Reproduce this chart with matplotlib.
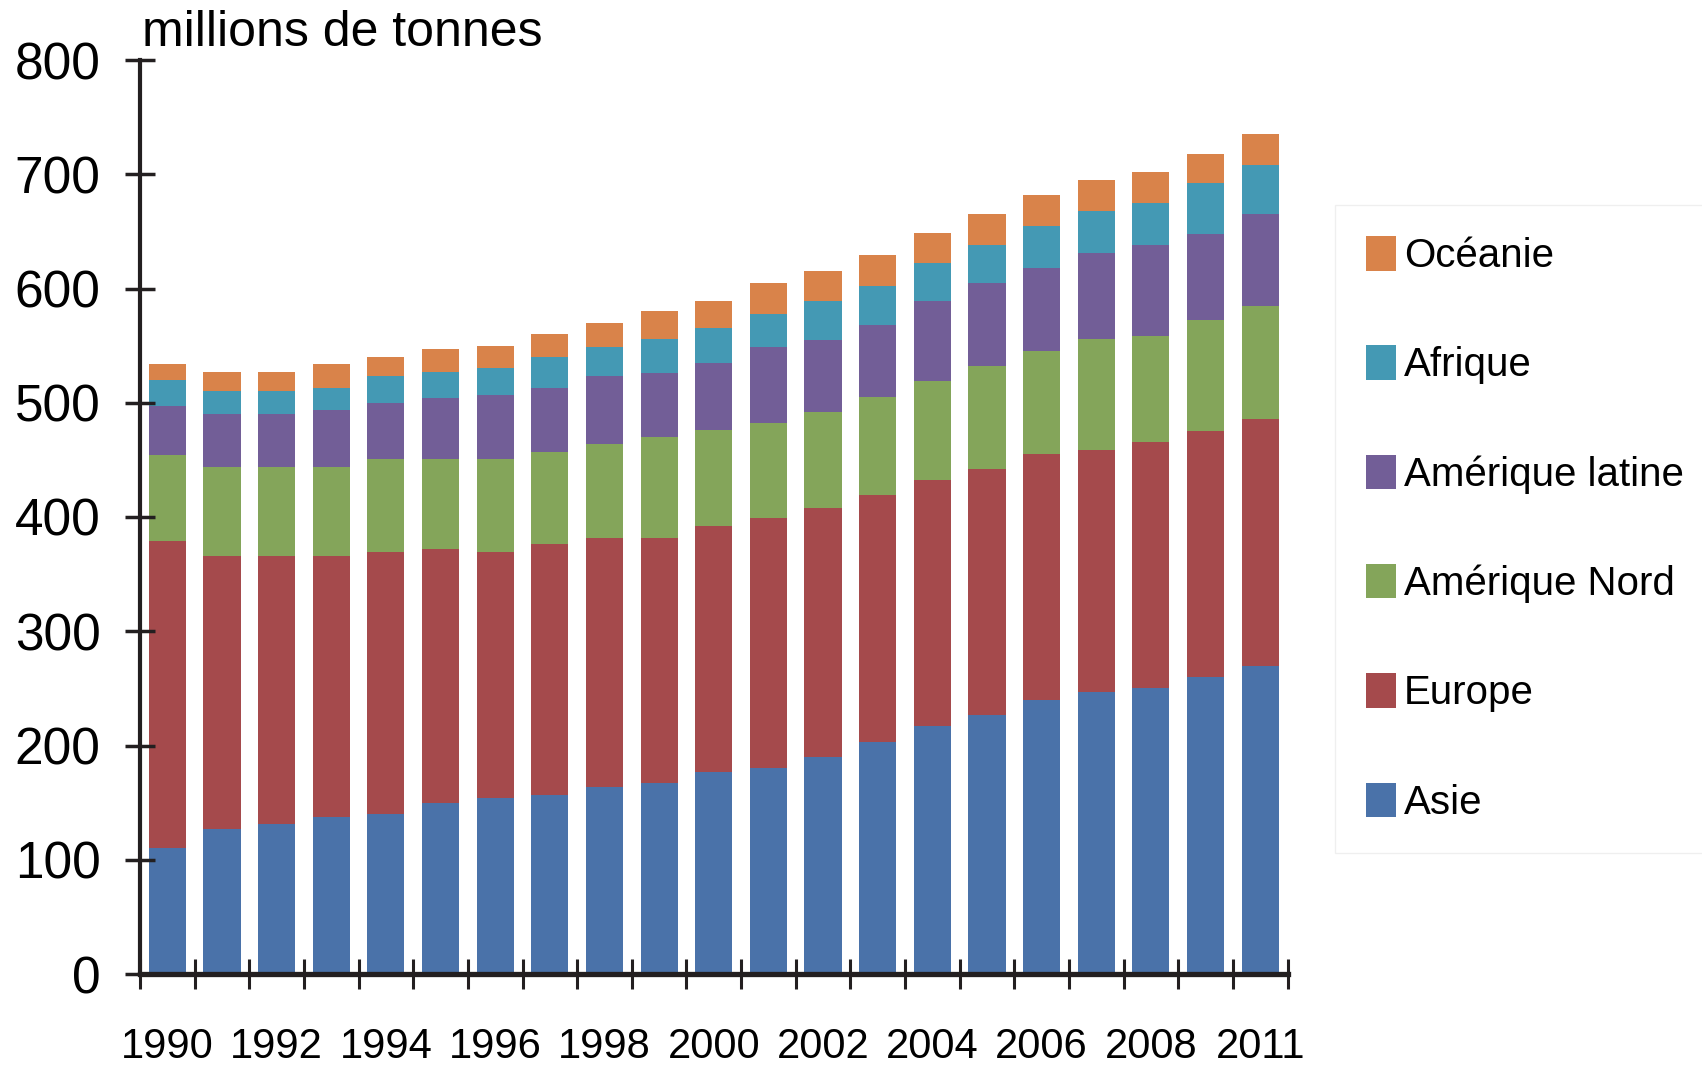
import numpy as np
import matplotlib
matplotlib.use("Agg")
import matplotlib.pyplot as plt
from matplotlib import font_manager

plt.rcParams['font.family'] = ['Liberation Sans', 'DejaVu Sans']

# ---- data (millions de tonnes) ----
years = ['1990', '1991', '1992', '1993', '1994', '1995', '1996', '1997', '1998', '1999',
         '2000', '2001', '2002', '2003', '2004', '2005', '2006', '2007', '2008', '2010', '2011']
asie = [110, 127, 131, 137, 140, 150, 154, 157, 164, 167, 177, 180, 190, 203, 217, 227, 240, 247, 250, 260, 270]
europe = [269, 239, 235, 229, 229, 222, 215, 219, 218, 215, 215, 219, 218, 216, 215, 215, 215, 212, 216, 215, 216]
amerique_nord = [75, 78, 78, 78, 82, 79, 82, 81, 82, 88, 84, 83, 84, 86, 87, 90, 90, 97, 92, 97, 99]
amerique_latine = [43, 46, 46, 50, 49, 53, 56, 56, 59, 56, 59, 67, 63, 63, 70, 73, 73, 75, 80, 76, 80]
afrique = [23, 20, 20, 19, 23, 23, 23, 27, 26, 30, 30, 29, 34, 34, 33, 33, 37, 37, 37, 44, 43]
oceanie = [14, 17, 17, 21, 17, 20, 20, 20, 21, 24, 24, 27, 26, 27, 27, 27, 27, 27, 27, 26, 27]

series_names = ['Asie', 'Europe', 'Amérique Nord', 'Amérique latine', 'Afrique', 'Océanie']
series_values = [asie, europe, amerique_nord, amerique_latine, afrique, oceanie]
series_colors = ['#4A72A9', '#A54A4C', '#84A55A', '#725E97', '#4499B4', '#D9834A']
y_ticks = [0, 100, 200, 300, 400, 500, 600, 700, 800]

W, H = 1702, 1070
fig = plt.figure(figsize=(W / 100, H / 100), dpi=100)
ax = fig.add_axes([140 / W, 1 - 974 / H, (1287.5 - 140) / W, (974 - 60) / H])

n = len(years)
x = np.arange(n)
bottom = np.zeros(n)
handles = []
for name, vals, col in zip(series_names, series_values, series_colors):
    v = np.array(vals, dtype=float)
    b = ax.bar(x, v, 0.68, bottom=bottom, color=col, label=name, linewidth=0)
    handles.append(b)
    bottom += v

ax.set_xlim(-0.5, n - 0.5)
ax.set_ylim(0, 800)
for s in ['top', 'right']:
    ax.spines[s].set_visible(False)
axis_col = '#231F20'
ax.spines['left'].set_linewidth(3)
ax.spines['left'].set_color(axis_col)
ax.spines['bottom'].set_linewidth(3.8)
ax.spines['bottom'].set_color(axis_col)

ax.set_yticks(y_ticks)
ax.set_yticklabels([str(t) for t in y_ticks])
ax.tick_params(axis='y', direction='inout', length=21, width=2.5, color=axis_col,
               labelsize=37, pad=18)

ax.set_xticks(x[::2])
ax.set_xticklabels(years[::2])
ax.tick_params(axis='x', which='major', length=0, labelsize=30, pad=38)
ax.set_xticks(np.arange(-0.5, n, 1.0), minor=True)
ax.tick_params(axis='x', which='minor', direction='inout', length=21, width=2.2, color=axis_col)

fig.text(142 / W, 1 - 46 / H, 'millions de tonnes', fontsize=36, ha='left', va='baseline')

available = {f.name for f in font_manager.fontManager.ttflist}
if 'Liberation Sans Narrow' in available:
    leg_prop = {'family': 'Liberation Sans Narrow', 'size': 36}
    leg_fs_px = 36 * 100 / 72
else:
    leg_prop = {'family': 'Liberation Sans', 'size': 29}
    leg_fs_px = 29 * 100 / 72

row_pitch = 118.5
leg = fig.legend(handles[::-1], series_names[::-1], loc='upper left',
                 bbox_to_anchor=(1335 / W, 1 - 205 / H), bbox_transform=fig.transFigure,
                 borderaxespad=0, frameon=True, fancybox=False, edgecolor='#ECECEC',
                 handlelength=30 / leg_fs_px, handleheight=38 / leg_fs_px,
                 handletextpad=8 / leg_fs_px,
                 labelspacing=(row_pitch - 1.2 * leg_fs_px) / leg_fs_px,
                 borderpad=31 / leg_fs_px, prop=leg_prop)
leg.get_frame().set_linewidth(1.0)

fig.savefig('out.png', dpi=100, facecolor='white')
